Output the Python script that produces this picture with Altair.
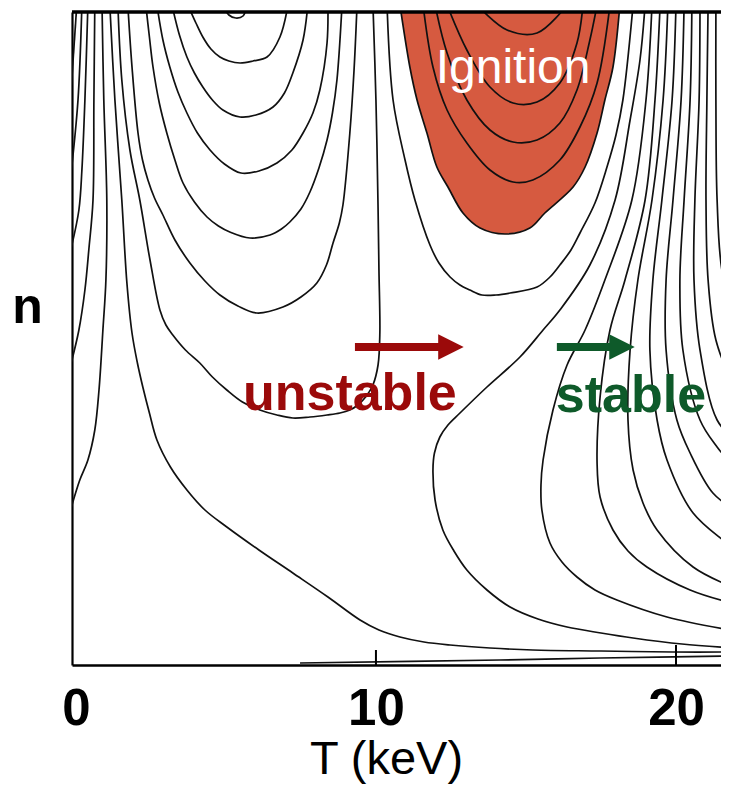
import altair as alt
import pandas as pd

# ---- contour curves: T in keV, n in arbitrary units ----
loop_T = [4.9, 5.1, 5.33, 5.57, 5.7]
loop_n = [6.6, 6.5, 6.47, 6.49, 6.6]

u1_T = [3.73, 4.0, 4.23, 4.5, 4.8, 5.1, 5.47, 5.9, 6.37, 6.8, 7.07]
u1_n = [6.6, 6.42, 6.28, 6.16, 6.08, 6.04, 6.02, 6.04, 6.08, 6.28, 6.6]

u2_T = [3.2, 3.45, 3.7, 3.95, 4.23, 4.55, 4.9, 5.47, 6.0, 6.57, 6.95, 7.23, 7.57, 7.73]
u2_n = [6.6, 6.3, 6.08, 5.92, 5.78, 5.65, 5.55, 5.48, 5.5, 5.58, 5.72, 5.92, 6.25, 6.6]

u3_T = [2.7, 2.9, 3.13, 3.4, 3.7, 4.05, 4.47, 4.95, 5.5, 6.1, 6.7, 7.2, 7.57, 7.9, 8.13, 8.37, 8.4]
u3_n = [6.6, 6.25, 5.98, 5.73, 5.52, 5.32, 5.15, 5.01, 4.92, 4.94, 5.02, 5.15, 5.32, 5.52, 5.75, 6.22, 6.6]

u4_T = [2.33, 2.45, 2.57, 2.78, 3.03, 3.3, 3.57, 3.95, 4.37, 4.75, 5.13, 5.8, 6.47, 6.85, 7.13, 7.5, 7.8, 8.1, 8.37, 8.55, 8.7, 8.87]
u4_n = [6.6, 6.28, 5.98, 5.62, 5.32, 5.05, 4.82, 4.63, 4.48, 4.39, 4.33, 4.27, 4.30, 4.36, 4.43, 4.56, 4.73, 4.97, 5.25, 5.52, 5.85, 6.6]

u5_T = [1.73, 1.87, 2.07, 2.22, 2.4, 2.62, 2.9, 3.3, 3.8, 4.3, 4.8, 5.4, 6.03, 6.9, 7.5, 8.03, 8.35, 8.57, 8.78, 8.9, 9.13, 9.27, 9.37]
u5_n = [6.6, 5.98, 5.32, 5.05, 4.85, 4.67, 4.50, 4.25, 4.02, 3.84, 3.70, 3.59, 3.52, 3.58, 3.68, 3.82, 4.0, 4.22, 4.42, 4.60, 5.32, 5.95, 6.6]

u6_T = [1.4, 1.53, 1.8, 2.13, 2.47, 2.8, 3.0, 3.23, 3.65, 4.13, 4.55, 5.03, 5.55, 6.13, 6.7, 7.23, 7.8, 8.37, 8.8, 9.13,
        9.4, 9.57, 9.75, 9.9, 10.07, 10.13, 10.1, 10.07, 10.0, 9.9]
u6_n = [6.6, 5.85, 5.15, 4.65, 4.05, 3.55, 3.40, 3.30, 3.15, 3.02, 2.88, 2.75, 2.63, 2.55, 2.50, 2.47, 2.48, 2.50, 2.52, 2.55,
        2.60, 2.65, 2.72, 2.80, 3.00, 3.32, 3.95, 4.58, 5.65, 6.6]

l1_T = [1.13, 1.3, 1.53, 1.7, 1.87, 2.05, 2.23, 2.45, 2.7, 3.15, 3.7, 4.3, 5.03, 6.1, 7.23, 8.4, 9.47, 10.1, 10.8, 11.6, 12.47, 13.8, 15.23, 17.5, 19.9, 21.97]
l1_n = [6.6, 5.65, 4.65, 3.82, 3.32, 3.02, 2.78, 2.52, 2.25, 1.98, 1.75, 1.55, 1.38, 1.15, 0.92, 0.68, 0.45, 0.35, 0.28, 0.23, 0.20, 0.17, 0.15, 0.14, 0.13, 0.13]

l2_T = [0.87, 0.93, 1.03, 1.0, 0.9, 0.77, 0.63, 0.4, 0.13, -0.15]
l2_n = [6.6, 5.65, 4.65, 3.85, 3.35, 2.75, 2.35, 2.05, 1.85, 1.58]

l3_T = [0.63, 0.6, 0.57, 0.43, 0.3, 0.1, -0.15]
l3_n = [6.6, 5.65, 4.65, 4.15, 3.75, 3.35, 3.03]

l4_T = [0.4, 0.3, 0.2, 0.1, -0.15]
l4_n = [6.6, 5.65, 4.95, 4.55, 4.18]

l5_T = [0.2, 0.07, -0.15]
l5_n = [6.6, 5.65, 4.95]

l6_T = [0.03, -0.15]
l6_n = [6.6, 5.8]

g1_T = [10.37, 10.57, 10.97, 11.3, 11.8, 12.1, 12.47, 12.8, 13.13, 13.53, 14.0, 14.47, 15.37, 15.8, 16.13, 16.5, 16.8, 17.3, 17.7, 18.0, 18.23, 18.57]
g1_n = [6.6, 5.65, 5.05, 4.65, 4.20, 4.02, 3.88, 3.80, 3.75, 3.70, 3.70, 3.72, 3.78, 3.88, 4.0, 4.15, 4.32, 4.62, 4.98, 5.3, 5.65, 6.6]

r0_T = [10.8, 11.13, 11.37, 11.7, 12.03, 12.4, 12.9, 13.47, 14.3, 15.13, 15.63, 16.57, 16.97, 17.37, 17.63, 17.9, 18.13]
r0_n = [6.6, 5.98, 5.65, 5.32, 4.98, 4.78, 4.52, 4.37, 4.31, 4.37, 4.52, 4.78, 4.98, 5.32, 5.65, 5.98, 6.6]

i1_T = [11.57, 11.9, 12.37, 13.03, 13.8, 14.57, 15.23, 16.13, 16.8, 17.37, 17.8]
i1_n = [6.6, 5.98, 5.55, 5.22, 4.95, 4.83, 4.85, 5.05, 5.38, 5.82, 6.6]

i2_T = [11.97, 12.37, 13.03, 13.8, 14.57, 15.37, 16.13, 16.7, 17.13, 17.37]
i2_n = [6.6, 6.12, 5.65, 5.35, 5.23, 5.25, 5.42, 5.75, 6.25, 6.6]

i3_T = [12.37, 13.03, 13.8, 14.57, 15.37, 16.13, 16.7, 16.9]
i3_n = [6.6, 6.15, 5.78, 5.62, 5.63, 5.82, 6.22, 6.6]

i4_T = [13.37, 14.37, 15.37, 16.37]
i4_n = [6.6, 6.35, 6.32, 6.6]

ca_T = [18.97, 18.8, 18.47, 17.97, 17.13, 16.13, 15.57, 14.8, 13.7, 12.8, 12.4, 12.13, 11.95, 11.9, 11.97,
        12.23, 12.6, 13.03, 13.7, 14.47, 15.4, 16.37, 17.5, 18.57, 20.2, 21.97]
ca_n = [6.6, 6.05, 5.45, 4.65, 4.0, 3.55, 3.35, 3.08, 2.78, 2.52, 2.40, 2.28, 2.12, 1.95, 1.65,
        1.35, 1.14, 0.95, 0.75, 0.58, 0.46, 0.38, 0.32, 0.27, 0.21, 0.17]

cb_T = [19.2, 19.0, 18.53, 17.63, 16.97, 16.37, 15.9, 15.57, 15.5, 15.53, 15.8, 16.2, 16.7, 17.3, 18.03, 19.7, 21.97]
cb_n = [6.6, 5.65, 4.65, 3.85, 3.35, 3.0, 2.55, 2.05, 1.8, 1.55, 1.22, 1.03, 0.88, 0.75, 0.65, 0.48, 0.34]

cc_T = [19.47, 19.3, 18.97, 18.3, 17.8, 17.47, 17.37, 17.47, 17.9, 18.4, 19.03, 20.47, 21.97]
cc_n = [6.6, 5.65, 4.65, 3.85, 3.35, 2.68, 2.02, 1.68, 1.35, 1.14, 0.98, 0.75, 0.61]

cd_T = [19.73, 19.57, 19.2, 18.73, 18.47, 18.4, 18.57, 18.9, 19.37, 20.57, 21.97]
cd_n = [6.6, 5.65, 4.65, 3.85, 3.15, 2.45, 1.95, 1.62, 1.35, 0.98, 0.77]

ce_T = [20.0, 19.87, 19.53, 19.23, 19.13, 19.37, 19.7, 20.57, 21.97]
ce_n = [6.6, 5.65, 4.65, 3.85, 3.15, 2.45, 2.05, 1.52, 1.16]

cf_T = [20.27, 20.17, 19.9, 19.67, 19.67, 20.03, 20.47, 21.23, 21.97]
cf_n = [6.6, 5.65, 4.65, 3.85, 3.15, 2.45, 2.12, 1.72, 1.55]

cg_T = [20.53, 20.47, 20.27, 20.13, 20.23, 20.8, 21.37, 21.97]
cg_n = [6.6, 5.65, 4.65, 3.85, 3.15, 2.45, 2.18, 1.97]

ch_T = [20.8, 20.77, 20.63, 20.6, 20.8, 21.37, 21.97]
ch_n = [6.6, 5.65, 4.65, 3.85, 3.15, 2.45, 2.25]

ci_T = [21.07, 21.03, 21.0, 21.07, 21.33, 21.97]
ci_n = [6.6, 5.65, 4.65, 3.85, 3.25, 2.75]

cj_T = [21.33, 21.33, 21.37, 21.53, 21.97]
cj_n = [6.6, 5.65, 4.65, 3.95, 3.45]

ck_T = [21.57, 21.6, 21.73, 21.97]
ck_n = [6.6, 5.65, 4.85, 4.45]

b1_T = [7.47, 14.13, 17.47, 21.97]
b1_n = [0.02, 0.05, 0.07, 0.09]

# ignition region (filled): n levels with left / right boundary
ign_n = [4.31, 4.37, 4.52, 4.78, 4.98, 5.32, 5.65, 5.98, 6.6]
ign_Tl = [14.23, 13.47, 12.9, 12.4, 12.03, 11.7, 11.37, 11.13, 10.8]
ign_Tr = [14.37, 15.13, 15.63, 16.57, 16.97, 17.37, 17.63, 17.9, 18.13]

# axis ticks drawn inside the frame
tick_T = [10, 20]
tick_n2 = [0.15, 0.2]

# arrows
arrow_T1 = [9.3, 16.03]
arrow_T2 = [12.1, 17.8]
arrow_head_T = [12.5, 18.2]
arrow_n = [3.18, 3.18]
arrow_color = ["#9B0A0A", "#0E5A2A"]

curves = {
    "loop": (loop_T, loop_n), "u1": (u1_T, u1_n), "u2": (u2_T, u2_n), "u3": (u3_T, u3_n),
    "u4": (u4_T, u4_n), "u5": (u5_T, u5_n), "u6": (u6_T, u6_n), "l1": (l1_T, l1_n),
    "l2": (l2_T, l2_n), "l3": (l3_T, l3_n), "l4": (l4_T, l4_n), "l5": (l5_T, l5_n),
    "l6": (l6_T, l6_n), "g1": (g1_T, g1_n), "r0": (r0_T, r0_n), "i1": (i1_T, i1_n),
    "i2": (i2_T, i2_n), "i3": (i3_T, i3_n), "i4": (i4_T, i4_n), "ca": (ca_T, ca_n),
    "cb": (cb_T, cb_n), "cc": (cc_T, cc_n), "cd": (cd_T, cd_n), "ce": (ce_T, ce_n),
    "cf": (cf_T, cf_n), "cg": (cg_T, cg_n), "ch": (ch_T, ch_n), "ci": (ci_T, ci_n),
    "cj": (cj_T, cj_n), "ck": (ck_T, ck_n), "b1": (b1_T, b1_n),
}
rows = []
for name, (ts, ns) in curves.items():
    for i, (t, n) in enumerate(zip(ts, ns)):
        rows.append({"curve": name, "i": i, "T": t, "n": n})
df_lines = pd.DataFrame(rows)
df_ign = pd.DataFrame({"n": ign_n, "T": ign_Tl, "T2": ign_Tr})
df_ticks = pd.DataFrame({"T": tick_T, "n": [0, 0], "n2": tick_n2})
df_arrow = pd.DataFrame({"T": arrow_T1, "T2": arrow_T2, "Th": arrow_head_T, "n": arrow_n, "c": arrow_color})
df_text = pd.DataFrame({
    "T": [14.57, 9.13, 18.5],
    "n": [5.82, 2.55, 2.53],
    "label": ["Ignition", "unstable", "stable"],
    "c": ["#FFFFFF", "#9B0A0A", "#0E5A2A"],
})

FONT = "Liberation Sans"
W, H = 649, 653
xscale = alt.Scale(domain=[-0.13, 21.5], nice=False, zero=False)
yscale = alt.Scale(domain=[0, 6.53], nice=False, zero=False)
xaxis = alt.Axis(values=[0, 10, 20], title="T (keV)", ticks=False, domain=True, domainColor="black",
                 domainWidth=2.5, grid=False,
                 labelFontSize=51, labelFont=FONT, labelFontWeight="bold", labelColor="black",
                 labelBaseline="alphabetic", labelPadding=59, labelFlush=False,
                 titleFontSize=47, titleFont=FONT, titleFontWeight="normal", titleColor="black",
                 titleX=314, titleY=108, titleBaseline="alphabetic", titleAnchor="middle")
yaxis = alt.Axis(labels=False, ticks=False, domain=True, domainColor="black", domainWidth=2.2,
                 grid=False, title="n",
                 titleAngle=0, titleFontSize=50, titleFont=FONT, titleFontWeight="bold",
                 titleColor="black", titleX=-45, titleY=310, titleAlign="center",
                 titleBaseline="alphabetic")
X = alt.X("T:Q", scale=xscale, axis=xaxis)
Y = alt.Y("n:Q", scale=yscale, axis=yaxis)

area = alt.Chart(df_ign).mark_area(color="#D65A40", clip=True, orient="horizontal",
                                   interpolate="catmull-rom").encode(
    x=X, x2="T2:Q", y=Y)

lines = alt.Chart(df_lines).mark_line(clip=True, color="#111111", strokeWidth=1.7,
                                      interpolate="catmull-rom").encode(
    x=X, y=Y, detail="curve:N", order="i:Q")

ticks = alt.Chart(df_ticks).mark_rule(color="black", strokeWidth=2).encode(
    x=X, y=Y, y2="n2:Q")

top_border = alt.Chart(df_ticks).mark_rule(color="black", strokeWidth=3).encode(
    x=alt.value(0), x2=alt.value(W), y=alt.value(0))

shafts = alt.Chart(df_arrow).mark_rule(strokeWidth=8).encode(
    x=X, x2="T2:Q", y=Y, color=alt.Color("c:N", scale=None))

heads = alt.Chart(df_arrow).mark_point(shape="M-1,-1L1,0L-1,1Z", filled=True, size=650, opacity=1).encode(
    x=alt.X("Th:Q", scale=xscale, axis=xaxis), y=Y, color=alt.Color("c:N", scale=None))

text_ign = alt.Chart(df_text[df_text.label == "Ignition"]).mark_text(
    font=FONT, fontSize=48, fontWeight="normal", baseline="alphabetic", align="center").encode(
    x=X, y=Y, text="label:N", color=alt.Color("c:N", scale=None))

text_st = alt.Chart(df_text[df_text.label != "Ignition"]).mark_text(
    font=FONT, fontSize=52, fontWeight="bold", baseline="alphabetic", align="center").encode(
    x=X, y=Y, text="label:N", color=alt.Color("c:N", scale=None))

chart = alt.layer(area, lines, ticks, top_border, shafts, heads, text_ign, text_st).properties(
    width=W, height=H,
    autosize=alt.AutoSizeParams(type="none"),
    padding={"left": 64, "top": 4, "right": 0, "bottom": 119},
    background="white",
).configure_view(stroke=None)

chart.save("out.html", embed_options={"renderer": "svg", "actions": False})
